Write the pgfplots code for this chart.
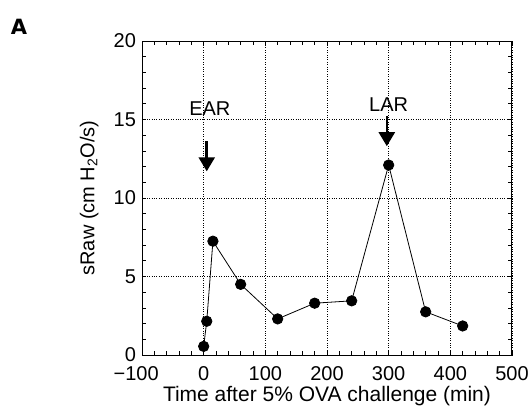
\documentclass[border=0pt]{standalone}
\usepackage{fontspec}
\setmainfont{Liberation Sans}
\newfontfamily\heavyfont{DejaVu Sans}
\usepackage{pgfplots}
\pgfplotsset{compat=1.18}
\usetikzlibrary{arrows.meta}
\begin{document}
\begin{tikzpicture}[x=1pt,y=1pt]
\useasboundingbox (0,0) rectangle (530,408);
\node[font=\fontsize{21}{25}\selectfont\heavyfont\bfseries] at (19,381) {A};
\begin{axis}[
  at={(142pt,53pt)}, anchor=south west,
  scale only axis, width=370pt, height=314pt,
  xmin=-100, xmax=500, ymin=0, ymax=20,
  xtick={-100,0,100,200,300,400,500},
  xticklabels={\llap{−}100,0,100,200,300,400,500},
  ytick={0,5,10,15,20},
  yticklabels={0,5,10,15,20},
  minor x tick num=4, minor y tick num=4,
  tick align=inside,
  major tick length=4pt, minor tick length=4pt,
  tick style={black, line width=0.7pt},
  axis line style={line width=1pt},
  grid=major,
  major grid style={dotted, black, line width=0.6pt},
  font=\fontsize{20}{24}\selectfont,
  xticklabel style={yshift=-8pt},
  yticklabel style={xshift=-2.5pt},
  clip=false,
]
\addplot[black, line width=0.8pt, mark=*, mark size=5.2pt, mark options={fill=black}]
 coordinates {(0,0.55) (5,2.15) (15,7.25) (60,4.5) (120,2.3) (180,3.3) (240,3.45) (300,12.1) (360,2.75) (420,1.85)};
\node[font=\fontsize{20}{24}\selectfont] at (axis cs:10,15.7) {EAR};
\node[font=\fontsize{20}{24}\selectfont] at (axis cs:300,15.95) {LAR};
\draw[line width=2.5pt, -{Triangle[length=14pt,width=16pt]}] (axis cs:5,13.6) -- (axis cs:5,11.7);
\draw[line width=2.5pt, -{Triangle[length=14pt,width=16pt]}] (axis cs:297,15.2) -- (axis cs:297,13.3);
\node[font=\fontsize{21}{25}\selectfont] at (axis description cs:0.5,-0.131) {Time after 5\% OVA challenge (min)};
\node[font=\fontsize{20}{24}\selectfont, rotate=90] at (axis description cs:-0.143,0.5) {sRaw (cm H\textsubscript{2}O/s)};
\end{axis}
\end{tikzpicture}
\end{document}
